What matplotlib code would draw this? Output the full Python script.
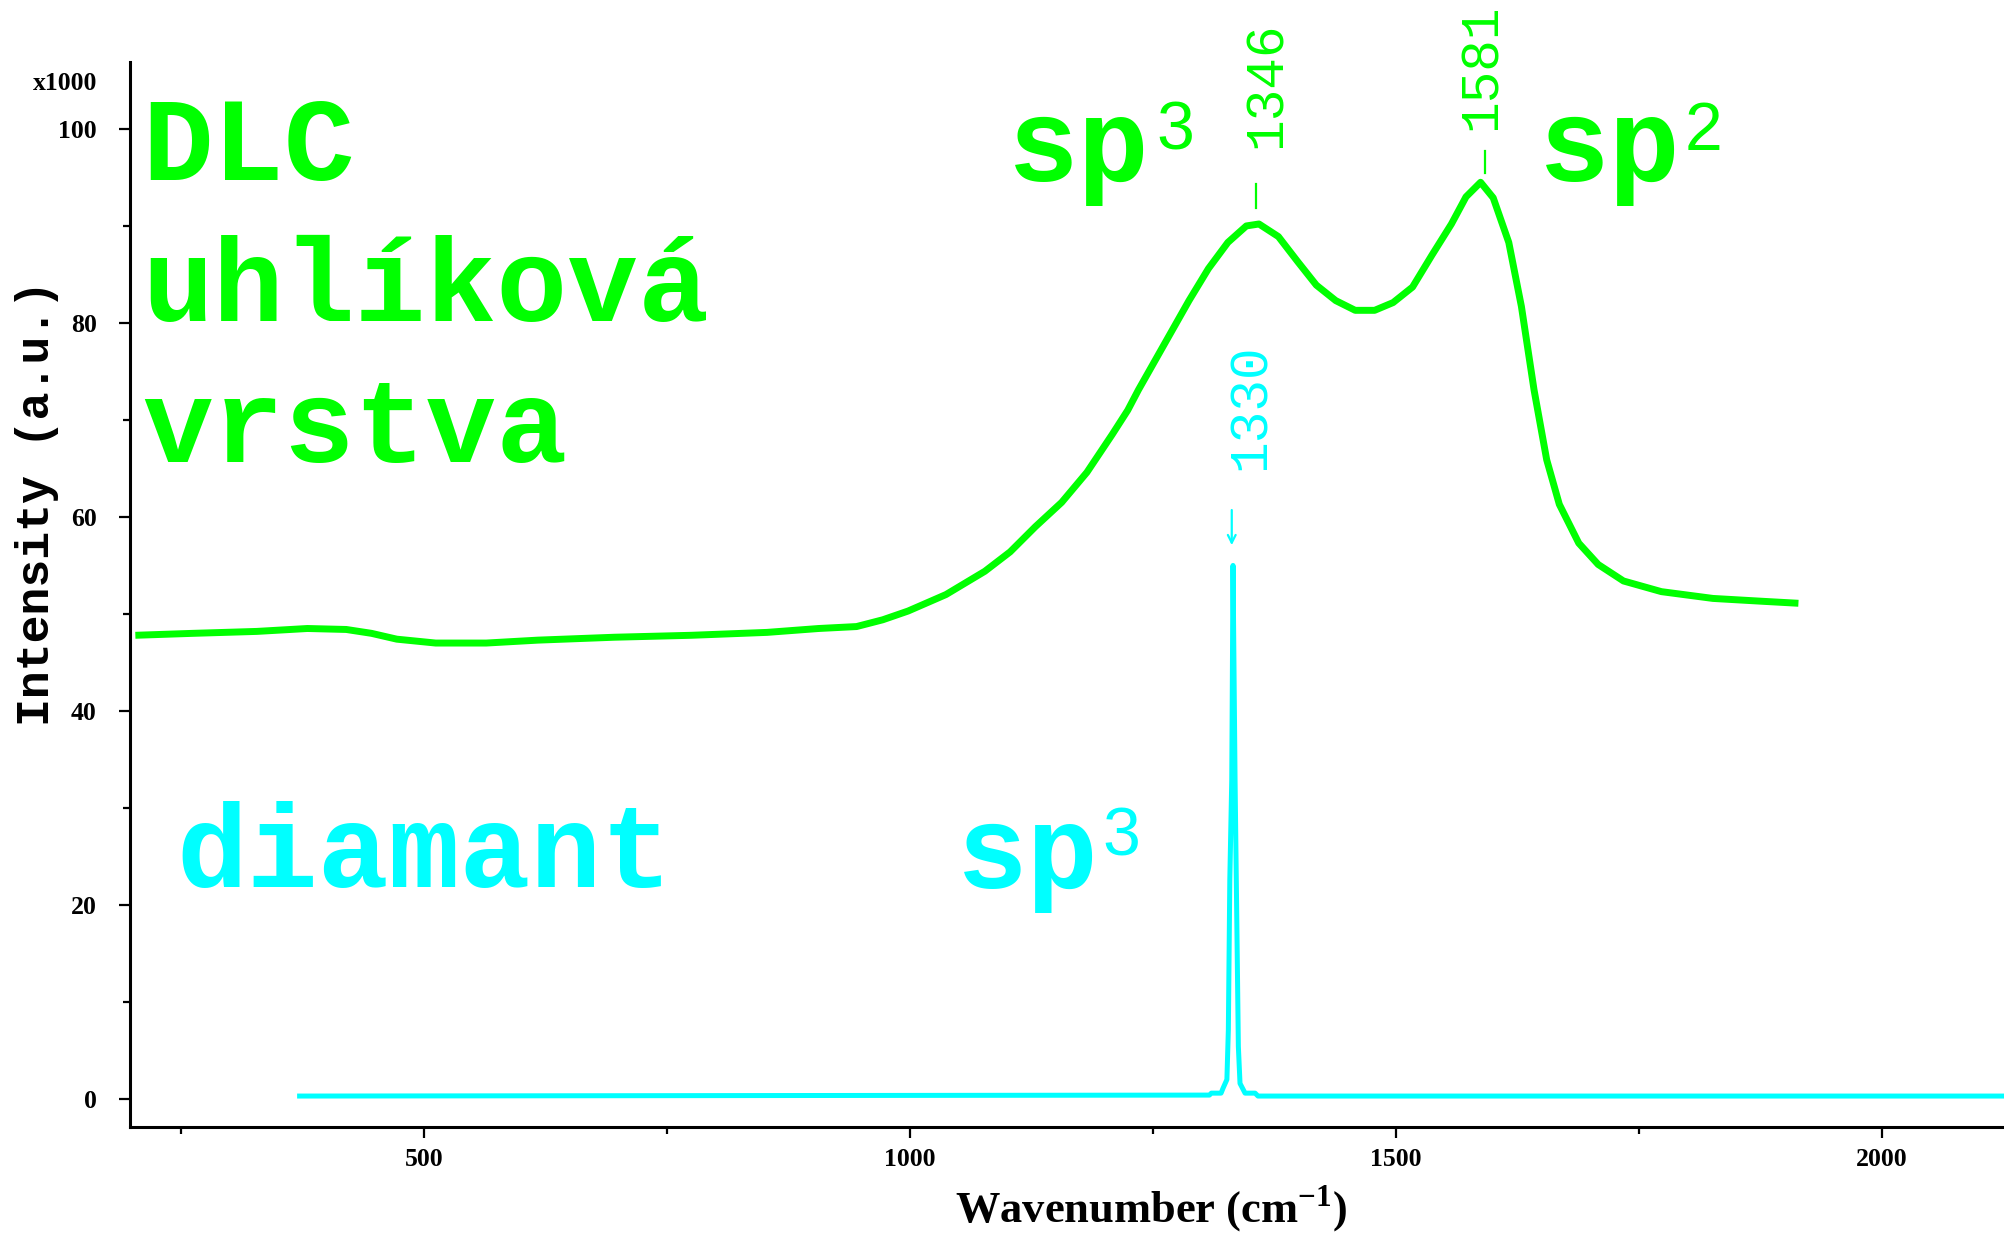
import matplotlib
matplotlib.use("Agg")
import matplotlib.pyplot as plt
from matplotlib.ticker import FixedLocator

# ---- data ----
dlc_x = [203, 262, 328, 380, 420, 446, 472, 512, 564, 617, 696, 775, 853, 906, 945,
         972, 998, 1037, 1077, 1103, 1129, 1156, 1182, 1208, 1224, 1235, 1261, 1287,
         1307, 1327, 1346, 1359, 1379, 1399, 1418, 1438, 1458, 1478, 1497, 1517, 1537,
         1557, 1572, 1587, 1600, 1616, 1629, 1642, 1655, 1668, 1688, 1708, 1734, 1773,
         1826, 1878, 1914]
dlc_y = [47.8, 48.0, 48.2, 48.5, 48.4, 48.0, 47.4, 47.0, 47.0, 47.3, 47.6, 47.8, 48.1,
         48.5, 48.7, 49.4, 50.3, 52.0, 54.4, 56.4, 59.0, 61.5, 64.6, 68.5, 71.0, 73.1,
         77.7, 82.3, 85.6, 88.3, 90.0, 90.2, 88.9, 86.3, 83.9, 82.3, 81.3, 81.3, 82.1,
         83.7, 87.0, 90.2, 93.0, 94.5, 92.9, 88.3, 81.7, 73.1, 65.9, 61.3, 57.3, 55.1,
         53.4, 52.3, 51.6, 51.3, 51.1]

dia_x = [372, 1308, 1310, 1320, 1322, 1326, 1327.5, 1329, 1331, 1332.3, 1334.4, 1337.8,
         1339.5, 1344.7, 1355, 1358, 2130]
dia_y = [0.3, 0.4, 0.6, 0.6, 1.1, 2.0, 7.1, 22.6, 32.9, 55.0, 32.9, 5.4, 1.6, 0.6, 0.6,
         0.3, 0.3]

x_major = [500, 1000, 1500, 2000]
x_minor = [250, 750, 1250, 1750]
y_major = [0, 20, 40, 60, 80, 100]
y_minor = [10, 30, 50, 70, 90]

peak_dlc = ["1346", "1581"]
peak_dia = "1330"

GREEN = "#00ff00"
CYAN = "#00ffff"
W, H = 2004, 1234

fig = plt.figure(figsize=(W / 100, H / 100), dpi=100)
ax = fig.add_axes([130 / W, 107 / H, 1874 / W, 1065 / H])
ax.set_xlim(197.5, 2125.5)
ax.set_ylim(-2.89, 106.9)

ax.plot(dlc_x, dlc_y, color=GREEN, lw=5.0, solid_joinstyle="round", solid_capstyle="butt")
ax.plot(dia_x, dia_y, color=CYAN, lw=3.6, solid_joinstyle="round")

for s in ["top", "right"]:
    ax.spines[s].set_visible(False)
for s in ["left", "bottom"]:
    ax.spines[s].set_linewidth(2.2)
    ax.spines[s].set_color("black")

ax.xaxis.set_major_locator(FixedLocator(x_major))
ax.xaxis.set_minor_locator(FixedLocator(x_minor))
ax.yaxis.set_major_locator(FixedLocator(y_major))
ax.yaxis.set_minor_locator(FixedLocator(y_minor))
ax.tick_params(axis="both", which="major", length=8, width=1.6, direction="out")
ax.tick_params(axis="both", which="minor", length=5, width=1.6, direction="out")
ax.tick_params(axis="y", which="major", pad=16)
ax.tick_params(axis="x", which="major", pad=7)
tick_font = dict(family="Liberation Serif", weight="bold", size=18.5)
ax.set_xticklabels([str(v) for v in x_major], fontdict=tick_font)
ax.set_yticklabels([str(v) for v in y_major], fontdict=tick_font)

fig.text(97 / W, 1 - 83 / H, "x1000", ha="right", va="center", **tick_font)

# axis labels
fig.text(37 / W, 1 - 503 / H, "Intensity (a.u.)", rotation=90, ha="center", va="center",
         family="Liberation Mono", weight="bold", size=33.5)
fig.text(1151 / W, 1 - 1209 / H, r"Wavenumber (cm$^{\mathregular{-1}}$)", ha="center",
         va="center", family="Liberation Serif", weight="bold", size=32)

# big labels
big = dict(family="Liberation Mono", weight="bold", size=85, va="baseline", ha="left")
sup = dict(family="Liberation Sans", size=49, va="baseline", ha="left")
fig.text(142 / W, 1 - 180 / H, "DLC", color=GREEN, **big)
fig.text(142 / W, 1 - 321 / H, "uhlíková", color=GREEN, **big)
fig.text(142 / W, 1 - 462 / H, "vrstva", color=GREEN, **big)
fig.text(176 / W, 1 - 887 / H, "diamant", color=CYAN, **big)

fig.text(1008 / W, 1 - 181 / H, "sp", color=GREEN, **big)
fig.text(1156 / W, 1 - 150 / H, "3", color=GREEN, **sup)
fig.text(1539 / W, 1 - 181 / H, "sp", color=GREEN, **big)
fig.text(1685 / W, 1 - 150 / H, "2", color=GREEN, **sup)
fig.text(957 / W, 1 - 888 / H, "sp", color=CYAN, **big)
fig.text(1102 / W, 1 - 855 / H, "3", color=CYAN, **sup)

# peak labels
pk = dict(family="Liberation Mono", size=38, rotation=90, ha="center", va="bottom")
ax.plot([1356, 1356], [91.9, 94.3], color=GREEN, lw=1.6)
ax.text(1367, 98.0, peak_dlc[0], color=GREEN, **pk)
ax.plot([1591.6, 1591.6], [95.5, 97.7], color=GREEN, lw=1.6)
ax.text(1588.5, 99.9, peak_dlc[1], color=GREEN, **pk)
ax.text(1351, 64.8, peak_dia, color=CYAN, **pk)
ax.annotate("", xy=(1331, 56.8), xytext=(1331, 61.0),
            arrowprops=dict(arrowstyle="->", color=CYAN, lw=1.6, mutation_scale=14))

fig.savefig("out.png", dpi=100)
